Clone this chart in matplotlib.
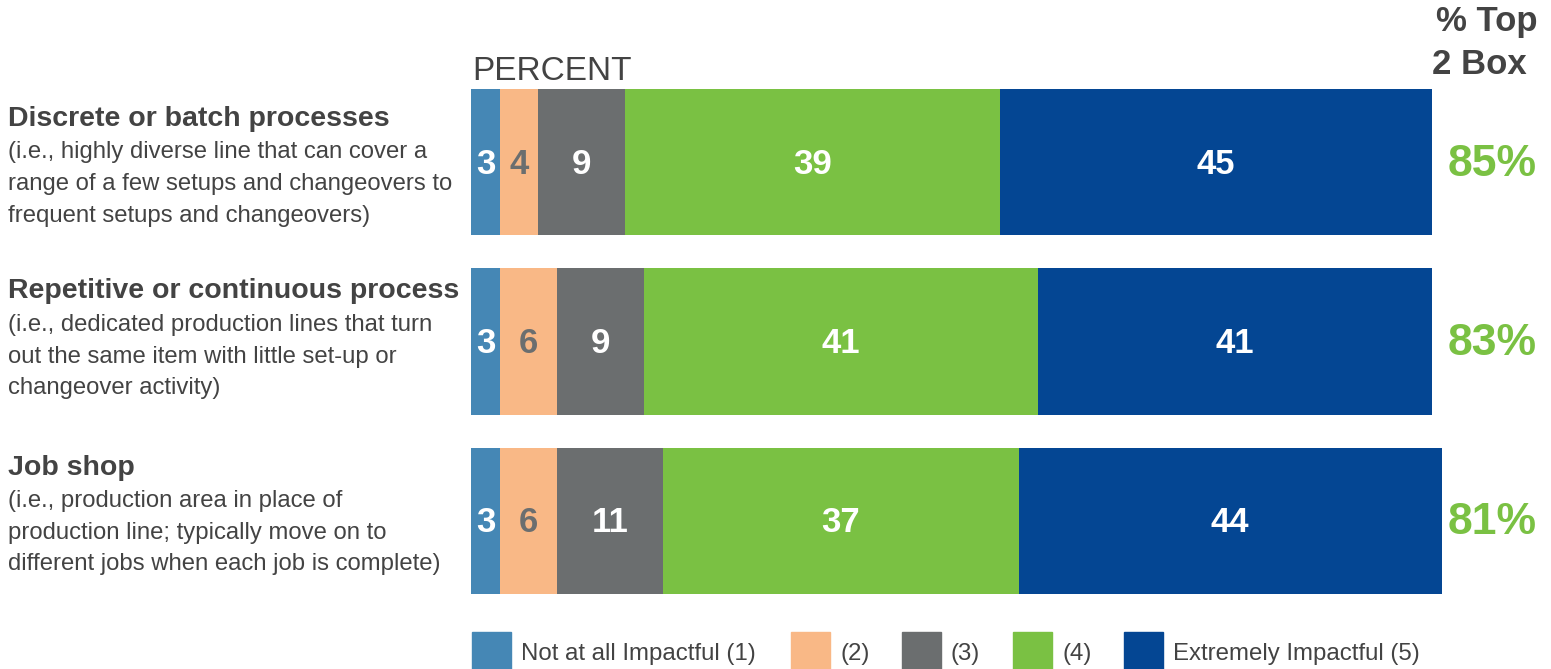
import matplotlib
matplotlib.use("Agg")
import matplotlib.pyplot as plt
from matplotlib.patches import Rectangle
from matplotlib.transforms import blended_transform_factory, offset_copy

plt.rcParams['font.family'] = ['Liberation Sans', 'DejaVu Sans']

categories = ["Discrete or batch processes",
              "Repetitive or continuous process",
              "Job shop"]
descriptions = [
    ["(i.e., highly diverse line that can cover a",
     "range of a few setups and changeovers to",
     "frequent setups and changeovers)"],
    ["(i.e., dedicated production lines that turn",
     "out the same item with little set-up or",
     "changeover activity)"],
    ["(i.e., production area in place of",
     "production line; typically move on to",
     "different jobs when each job is complete)"],
]
series_names = ["Not at all Impactful (1)", "(2)", "(3)", "(4)", "Extremely Impactful (5)"]
values = [
    [3, 4, 9, 39, 45],
    [3, 6, 9, 41, 41],
    [3, 6, 11, 37, 44],
]
top2 = ["85%", "83%", "81%"]

colors = ["#4587B5", "#F9B886", "#6B6E6F", "#7AC143", "#044693"]
label_colors = ["white", "#6B6E6F", "white", "white", "white"]
text_dark = "#434343"
green = "#7AC143"

W, H = 1551, 669
fig = plt.figure(figsize=(W / 100, H / 100), dpi=100)

def fx(px):
    return px / W

def fy(py):
    return 1 - py / H

# axes: x from 471 to 1432 (0..100), y from 89 to 594
bar_h = 0.8134
ax = fig.add_axes([fx(471), fy(594), fx(1432) - fx(471), fy(89) - fy(594)])
ax.set_xlim(0, 100)
ax.set_ylim(2 + bar_h / 2, -bar_h / 2)
ax.axis("off")

right_tr = blended_transform_factory(fig.transFigure, ax.transData)
lbl_tr = offset_copy(ax.transData, fig=fig, y=-2, units='dots')
right_tr2 = offset_copy(right_tr, fig=fig, y=-2, units='dots')

for i, row in enumerate(values):
    left = 0
    for j, v in enumerate(row):
        bars = ax.barh(i, v, left=left, height=bar_h, color=colors[j], edgecolor="none")
        for b in bars:
            b.set_clip_on(False)
        ax.text(left + v / 2, i, str(v), ha="center", va="center", transform=lbl_tr,
                fontsize=25, fontweight="bold", color=label_colors[j])
        left += v
    ax.text(fx(1537), i, top2[i], transform=right_tr2,
            ha="right", va="center", fontsize=32, fontweight="bold", color=green)

# left labels (pixel layout)
title_y = [119, 291, 468]
line_ys = [[152, 184, 216], [325, 357, 388], [501, 533, 564]]
for i in range(3):
    fig.text(fx(8), fy(title_y[i]), categories[i], ha="left", va="center",
             fontsize=20.5, fontweight="bold", color=text_dark)
    for k, line in enumerate(descriptions[i]):
        fig.text(fx(8), fy(line_ys[i][k]), line, ha="left", va="center",
                 fontsize=17.2, color=text_dark)

fig.text(fx(472), fy(71), "PERCENT", ha="left", va="center", fontsize=24, color=text_dark)
fig.text(fx(1537), fy(22), "% Top", ha="right", va="center", fontsize=25,
         fontweight="bold", color=text_dark)
fig.text(fx(1527), fy(64), "2 Box", ha="right", va="center", fontsize=25,
         fontweight="bold", color=text_dark)

# legend
patch_x = [472, 791, 902, 1013, 1124]
for j, name in enumerate(series_names):
    fig.patches.append(Rectangle((fx(patch_x[j]), 0), fx(39), fy(632), transform=fig.transFigure,
                                 color=colors[j], figure=fig))
    fig.text(fx(patch_x[j] + 49), fy(654), name, ha="left", va="center",
             fontsize=17.3, color=text_dark)

fig.savefig("out.png", dpi=100)
